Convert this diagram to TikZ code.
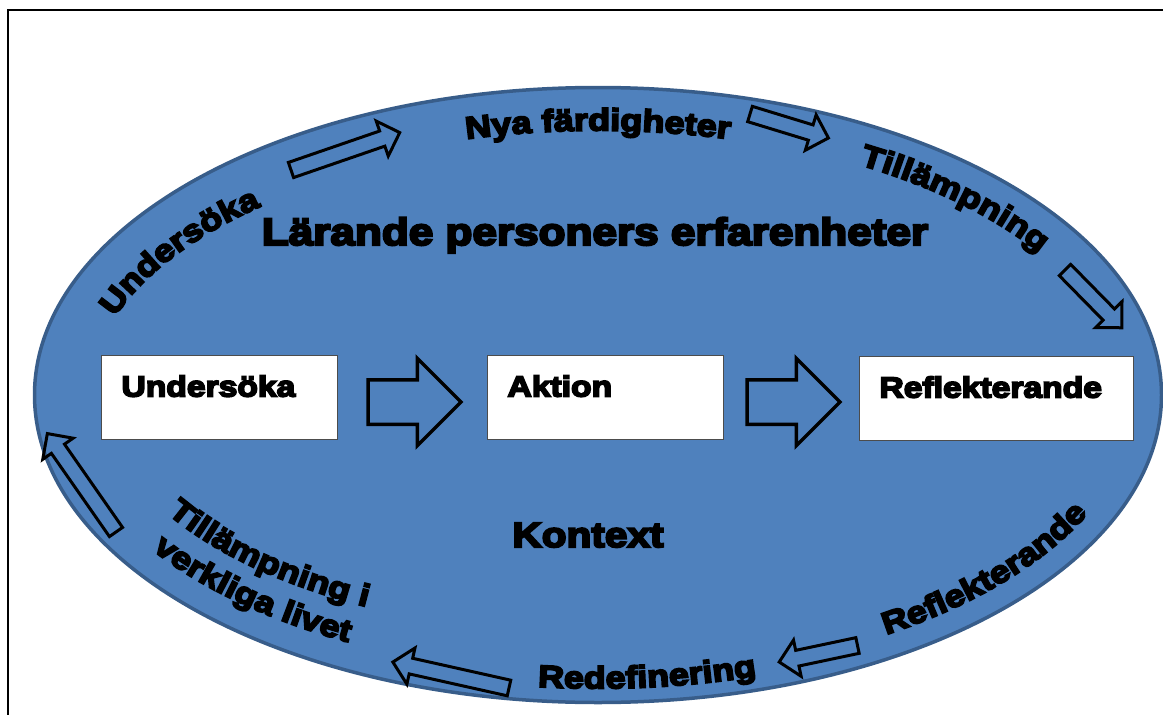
\documentclass[tikz,border=0pt]{standalone}
\usepackage{fontspec}
\newfontfamily\heavyfont{Liberation Sans}[UprightFont=* Bold,FakeStretch=1.16,FakeBold=6]
\newcommand\heavy{\heavyfont}
\usetikzlibrary{shapes.arrows}
\usetikzlibrary{decorations.text}
\definecolor{ovalfill}{HTML}{4F81BD}
\definecolor{ovaledge}{HTML}{385D8A}
\tikzset{
  stepbox/.style={draw=black!70,fill=white,line width=1pt,anchor=north west,inner xsep=20pt,inner ysep=0pt,
    text height=41pt,text depth=43pt,align=left,font=\heavy\fontsize{29}{29}\selectfont},
  bigarrow/.style={single arrow,draw=black,line width=3.5pt,outer sep=0pt,inner sep=0pt,text height=20.5pt,text depth=20.5pt,
    minimum height=93pt,minimum width=84pt,single arrow head extend=21.5pt,anchor=tail},
  rimarrow/.style={single arrow,draw=black,line width=3pt,outer sep=0pt,inner sep=0pt,text height=6.5pt,text depth=6.5pt,
    minimum width=34pt,single arrow head extend=10.5pt,anchor=tail},
  rimtext/.style={decorate,decoration={text along path,text align=center,text={|\heavy\fontsize{31}{31}\selectfont|#1}}}
}

\begin{document}
\begin{tikzpicture}[x=1pt,y=-1pt]
\useasboundingbox (0,0) rectangle (1163,715);
\draw[line width=2pt] (8,715) -- (8,10) -- (1163,10);

\coordinate (c) at (598,395);
\draw[fill=ovalfill,draw=ovaledge,line width=3.5pt] (c) ellipse [x radius=563.5,y radius=307.5];

\node[font=\heavy\fontsize{38}{38}\selectfont,anchor=base] (erf) at (595,245) {Lärande personers erfarenheter};
\node[font=\heavy\fontsize{35}{35}\selectfont,anchor=base] (kontext) at (588,547) {Kontext};

\node[stepbox,text width=196pt] (b1) at (101,355) {Undersöka};
\node[stepbox,text width=196pt] (b2) at (487,355) {Aktion};
\node[stepbox,text width=234pt] (b3) at (859,356) {Reflekterande};
\node[bigarrow] (m1) at (368,402) {};
\node[bigarrow] (m2) at (747,402) {};

\node[rimarrow,minimum height=115pt,rotate=19] (r1) at (291,170) {};
\node[rimarrow,minimum height=82pt,rotate=-17] (r2) at (750,114) {};
\node[rimarrow,minimum height=81pt,rotate=-45.5] (r3) at (1065,270) {};
\node[rimarrow,minimum height=80pt,rotate=191.9] (r4) at (857.5,645.5) {};
\node[rimarrow,minimum height=119pt,rotate=167.4] (r5) at (509,688) {};
\node[rimarrow,minimum height=120pt,rotate=124.9] (r6) at (116,532) {};

\path[rimtext={Undersöka}] (c) ++(184:508 and 252) arc[start angle=184,end angle=237.1,x radius=508,y radius=252];
\path[rimtext={Nya färdigheter}] (c) ++(235:520.5 and 264.5) arc[start angle=235,end angle=305,x radius=520.5,y radius=264.5];
\path[rimtext={Tillämpning}] (c) ++(290.1:522 and 266) arc[start angle=290.1,end angle=342.5,x radius=522,y radius=266];
\path[rimtext={Reflekterande}] (c) ++(65.6:539.5 and 283.5) arc[start angle=65.6,end angle=12.6,x radius=539.5,y radius=283.5];
\path[rimtext={Redefinering}] (c) ++(113.8:549.5 and 293.5) arc[start angle=113.8,end angle=54.8,x radius=549.5,y radius=293.5];
\path[rimtext={Tillämpning i}] (c) ++(163:495.5 and 239.5) arc[start angle=163,end angle=109.8,x radius=495.5,y radius=239.5];
\path[rimtext={verkliga livet}] (c) ++(161.3:535.5 and 279.5) arc[start angle=161.3,end angle=107.6,x radius=535.5,y radius=279.5];

\end{tikzpicture}
\end{document}
